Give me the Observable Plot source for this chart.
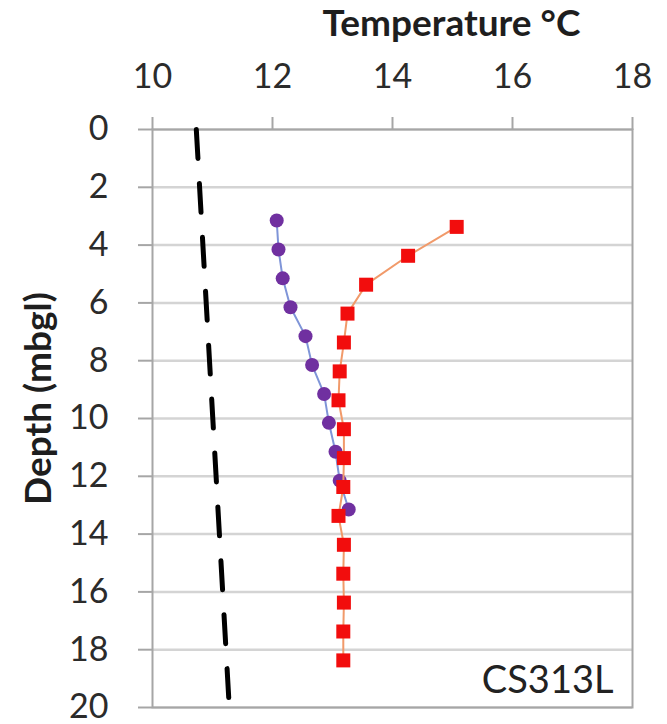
<!DOCTYPE html>
<html><head><meta charset="utf-8">
<script src="https://cdn.jsdelivr.net/npm/d3@7"></script>
<script src="https://cdn.jsdelivr.net/npm/@observablehq/plot@0.6"></script>
<style>body{margin:0;background:#fff}</style>
</head><body><div id="chart"></div>
<script>
// Purple circle series (depth m, temperature °C)
const purpleDepth = [3.15, 4.15, 5.15, 6.15, 7.15, 8.15, 9.15, 10.15, 11.15, 12.15, 13.15];
const purpleTemp  = [12.07, 12.1, 12.17, 12.3, 12.55, 12.66, 12.86, 12.94, 13.05, 13.12, 13.27];
// Red square series
const redDepth = [3.37, 4.37, 5.37, 6.37, 7.37, 8.37, 9.37, 10.37, 11.37, 12.37, 13.37, 14.37, 15.37, 16.37, 17.37, 18.37];
const redTemp  = [15.07, 14.26, 13.56, 13.25, 13.19, 13.12, 13.1, 13.19, 13.19, 13.18, 13.1, 13.19, 13.18, 13.19, 13.18, 13.18];
// Black dashed reference line
const refDepth = [0, 20];
const refTemp  = [10.73, 11.28];
// Axis ticks and texts
const xTicks = [10, 12, 14, 16, 18];
const yTicks = [0, 2, 4, 6, 8, 10, 12, 14, 16, 18, 20];
const xTitle = "Temperature °C";
const yTitle = "Depth (mbgl)";
const boreLabel = "CS313L";

const purple = purpleDepth.map((d, i) => ({depth: d, temp: purpleTemp[i]}));
const red = redDepth.map((d, i) => ({depth: d, temp: redTemp[i]}));
const ref = refDepth.map((d, i) => ({depth: d, temp: refTemp[i]}));

const chart = Plot.plot({
  width: 667,
  height: 724,
  marginTop: 129,
  marginLeft: 152,
  marginRight: 35,
  marginBottom: 17,
  style: {fontFamily: "Lato, sans-serif", fontSize: "34px", color: "#2b2b2b", background: "#fff"},
  x: {domain: [10, 18]},
  y: {domain: [0, 20], reverse: true},
  marks: [
    Plot.ruleY(yTicks, {stroke: "#d4d4d4", strokeWidth: 2.5}),
    Plot.frame({stroke: "#a6a6a6", strokeWidth: 2}),
    Plot.axisX(xTicks, {anchor: "top", tickSize: 13, tickPadding: 29, stroke: "#a6a6a6", strokeWidth: 2, fill: "#2b2b2b", label: null}),
    Plot.axisY(yTicks, {anchor: "left", tickSize: 14, tickPadding: 30, stroke: "#a6a6a6", strokeWidth: 2, fill: "#2b2b2b", label: null}),
    Plot.line(ref, {x: "temp", y: "depth", stroke: "black", strokeWidth: 5, strokeDasharray: "29,25"}),
    Plot.line(purple, {x: "temp", y: "depth", stroke: "#7f95d8", strokeWidth: 2}),
    Plot.dot(purple, {x: "temp", y: "depth", r: 7, fill: "#7030a0", stroke: "none", symbol: "circle"}),
    Plot.line(red, {x: "temp", y: "depth", stroke: "#f19a6a", strokeWidth: 2}),
    Plot.dot(red, {x: "temp", y: "depth", r: 7.9, fill: "#f20d0d", stroke: "none", symbol: "square"}),
    Plot.text([xTitle], {frameAnchor: "top", dx: 59, dy: -94, textAnchor: "middle", lineAnchor: "bottom", fontWeight: "bold", fontSize: 37, fill: "#1e1e1e"}),
    Plot.text([yTitle], {frameAnchor: "left", dx: -113, dy: -20, rotate: -90, textAnchor: "middle", lineAnchor: "middle", fontWeight: "bold", fontSize: 37, fill: "#1e1e1e"}),
    Plot.text([boreLabel], {frameAnchor: "bottom-right", dx: -19, dy: -15, textAnchor: "end", lineAnchor: "bottom", fontSize: 38, fill: "#222"})
  ]
});
document.getElementById("chart").appendChild(chart);
</script>
</body></html>
